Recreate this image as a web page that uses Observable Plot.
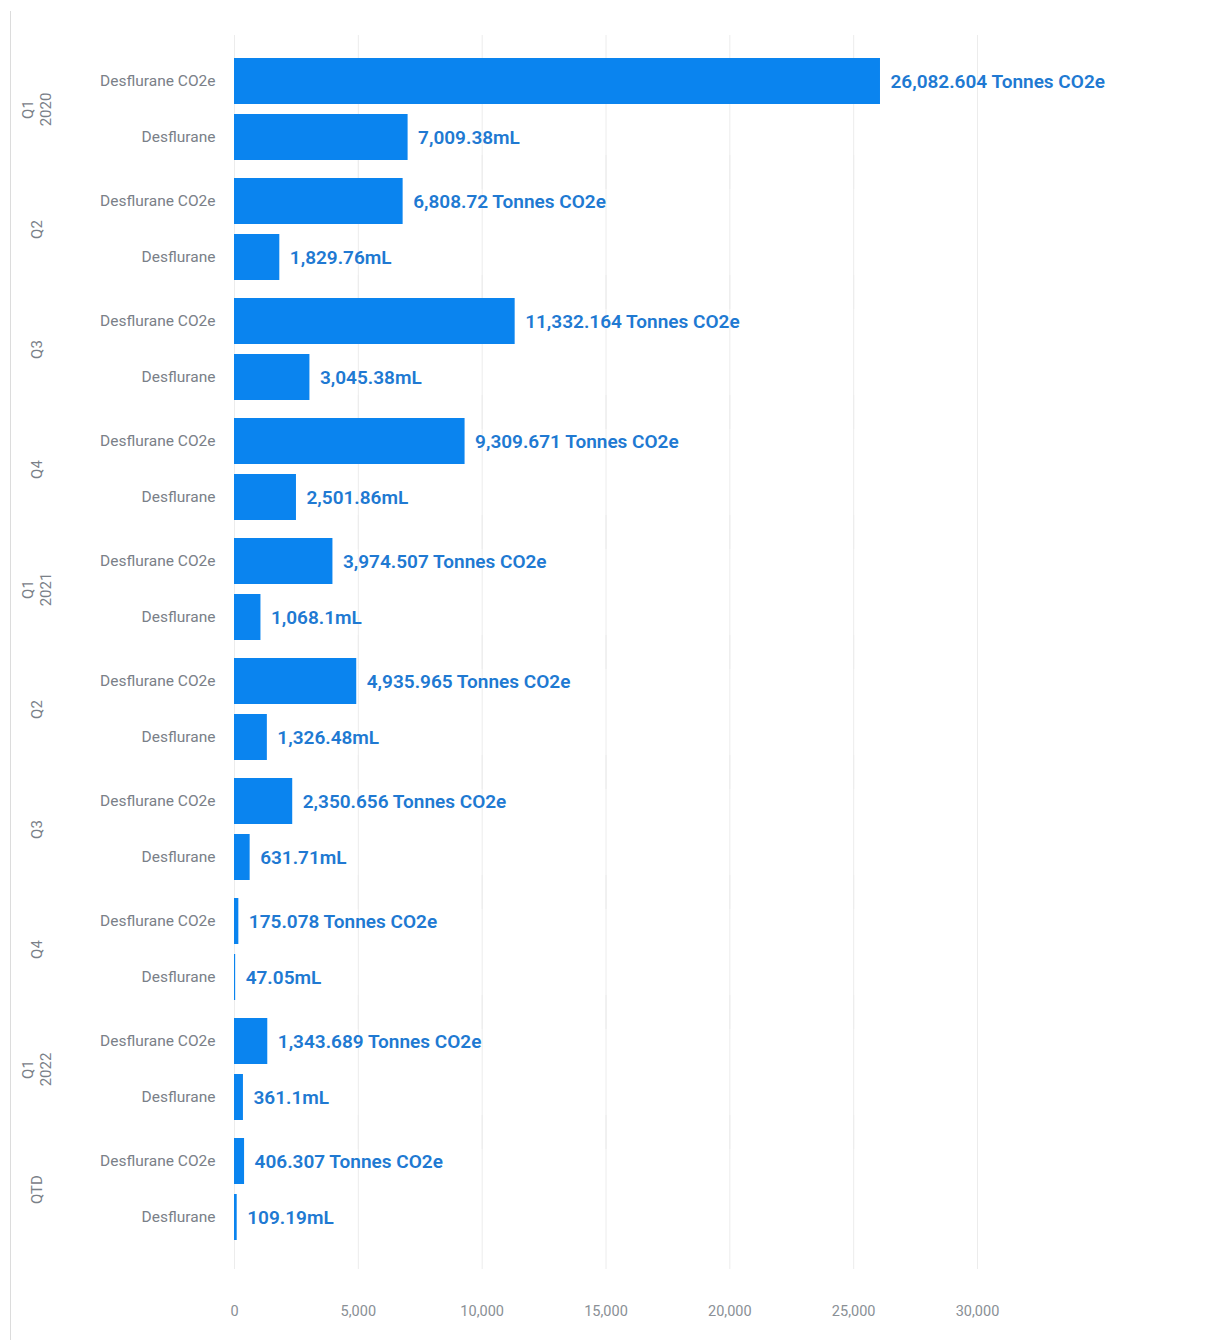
<!DOCTYPE html>
<html>
<head>
<meta charset="utf-8">
<script src="https://cdn.jsdelivr.net/npm/d3@7"></script>
<script src="https://cdn.jsdelivr.net/npm/@observablehq/plot@0.6"></script>
<style>
  html, body { margin: 0; padding: 0; background: #fff; }
  #wrap { position: relative; width: 1208px; height: 1340px; }
  #border { position: absolute; left: 10px; top: 11px; width: 1px; height: 1329px; background: #dcdcdc; }
  svg { font-family: Roboto, "Noto Sans", sans-serif; }
</style>
</head>
<body>
<div id="wrap"><div id="border"></div><div id="chart"></div></div>
<script>
// Quarter keys (unique) and their display labels
const quarterKeys = ["2020 Q1", "2020 Q2", "2020 Q3", "2020 Q4", "2021 Q1", "2021 Q2", "2021 Q3", "2021 Q4", "2022 Q1", "QTD"];
const quarterLabels = ["Q1\n2020", "Q2", "Q3", "Q4", "Q1\n2021", "Q2", "Q3", "Q4", "Q1\n2022", "QTD"];
const seriesNames = ["Desflurane CO2e", "Desflurane"];
const co2eTonnes = [26082.604, 6808.72, 11332.164, 9309.671, 3974.507, 4935.965, 2350.656, 175.078, 1343.689, 406.307];
const desfluraneMl = [7009.38, 1829.76, 3045.38, 2501.86, 1068.1, 1326.48, 631.71, 47.05, 361.1, 109.19];
const xTicks = [0, 5000, 10000, 15000, 20000, 25000, 30000];

const fmt = d3.format(",");
const rows = [];
quarterKeys.forEach((q, i) => {
  rows.push({q, series: seriesNames[0], value: co2eTonnes[i], label: fmt(co2eTonnes[i]) + " Tonnes CO2e"});
  rows.push({q, series: seriesNames[1], value: desfluraneMl[i], label: fmt(desfluraneMl[i]) + "mL"});
});
const groupRows = quarterKeys.map((q, i) => ({q, label: quarterLabels[i]}));

const chart = Plot.plot({
  width: 1208,
  height: 1340,
  marginLeft: 234,
  marginRight: 231,
  marginTop: 48,
  marginBottom: 90,
  style: {fontFamily: "Roboto, 'Noto Sans', sans-serif", background: "transparent"},
  fy: {domain: quarterKeys, padding: 0, axis: null},
  y: {domain: seriesNames, paddingInner: 0.18, paddingOuter: 0.16, label: null, tickSize: 0, tickPadding: 19},
  x: {domain: [0, 30000], ticks: xTicks, tickFormat: d3.format(","), label: null, tickSize: 0, tickPadding: 56},
  facet: {data: rows, y: "q", marginRight: 231},
  marks: [
    Plot.ruleX(xTicks, {stroke: "#ececec", strokeWidth: 1, insetTop: -14, insetBottom: -20}),
    Plot.barX(rows, {x: "value", y: "series", fill: "#0a84ef"}),
    Plot.text(rows, {x: "value", y: "series", text: "label", textAnchor: "start", dx: 10, dy: 0, fill: "#2079d2", fontSize: 19, fontWeight: 600}),
    Plot.text(groupRows, {fy: "q", text: "label", frameAnchor: "left", textAnchor: "middle", dx: -198, rotate: -90, fill: "#7a8088", fontSize: 15, lineHeight: 1.15})
  ]
});
// style tick labels
chart.querySelectorAll('g[aria-label="y-axis tick label"] text, g[aria-label="y-axis tick label"]').forEach(el => {
  el.setAttribute("fill", "#7a8088"); el.setAttribute("font-size", "15.5");
});
chart.querySelectorAll('g[aria-label="x-axis tick label"], g[aria-label="x-axis tick label"] text').forEach(el => {
  el.setAttribute("fill", "#8a9096"); el.setAttribute("font-size", "14.5");
});
document.getElementById("chart").appendChild(chart);
</script>
</body>
</html>
